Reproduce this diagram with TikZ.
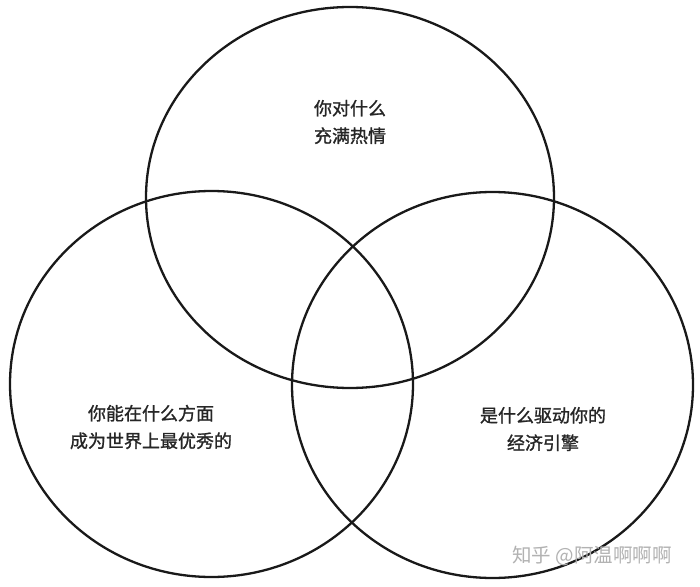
\documentclass[tikz,border=0pt]{standalone}
\usepackage{fontspec}
\newfontfamily\cjk[FakeBold=1.2]{Noto Sans CJK SC}
\newfontfamily\cjkwm{Noto Sans CJK SC}
\begin{document}
\begin{tikzpicture}[x=1bp,y=-1bp,
  ring/.style={draw=black!90,line width=2.3bp},
  lbl/.style={font=\cjk\fontsize{18bp}{27.5bp}\selectfont,text=black!85,align=center,inner sep=0pt},
  wmark/.style={font=\cjkwm\fontsize{19.5bp}{22bp}\selectfont,text=black!30,inner sep=0pt,anchor=west}]
\useasboundingbox (0,0) rectangle (700,587);
\fill[white] (0,0) rectangle (700,587);
\draw[ring] (350,197.5) ellipse [x radius=204, y radius=190.5];
\draw[ring] (211.5,384) ellipse [x radius=201.5, y radius=193];
\draw[ring] (492.5,385) ellipse [x radius=200.5, y radius=193];
\node[lbl] (top) at (350,122) {你对什么\\充满热情};
\node[lbl] (left) at (151,427) {你能在什么方面\\成为世界上最优秀的};
\node[lbl] (right) at (543,429) {是什么驱动你的\\经济引擎};
\node[wmark] (wm) at (512,556) {知乎 @阿温啊啊啊};
\end{tikzpicture}
\end{document}
